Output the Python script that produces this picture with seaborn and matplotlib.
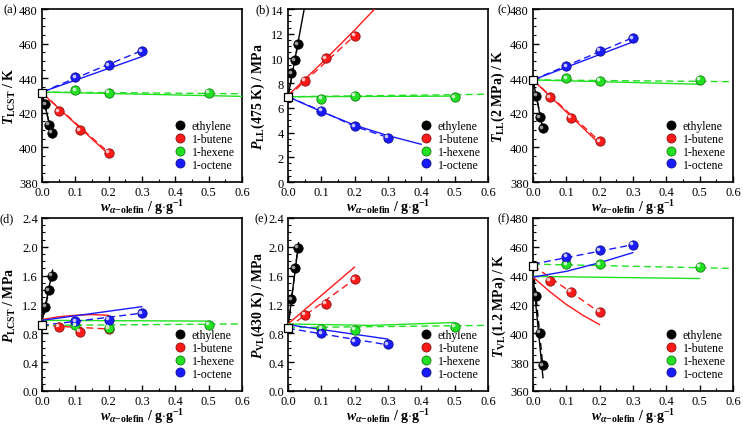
import matplotlib
matplotlib.use("Agg")
import matplotlib.pyplot as plt
import seaborn as sns
import matplotlib.transforms as mtransforms
from matplotlib.ticker import MultipleLocator, AutoMinorLocator, FormatStrFormatter
from matplotlib.lines import Line2D
from matplotlib.colors import to_rgb

# ---------------- data ----------------
SERIES = ["ethylene", "1-butene", "1-hexene", "1-octene"]
COLORS = ["#000000", "#ff1a1a", "#22e022", "#1a1aff"]

X_PTS = {"ethylene": [0.01, 0.02, 0.03],
         "1-butene": [0.05, 0.114, 0.2],
         "1-hexene": [0.1, 0.2, 0.5],
         "1-octene": [0.1, 0.2, 0.3]}

# (a) T_LCST
A_Y0 = 431.5
A_PTS = {"ethylene": [425, 413, 408.5], "1-butene": [421, 410, 397],
         "1-hexene": [433, 431.5, 431.5], "1-octene": [440.5, 447.5, 455.5]}
A_SOLID = {"ethylene": ([0, 0.032], [431.5, 405.5]), "1-butene": ([0, 0.2], [431.5, 396]),
           "1-hexene": ([0, 0.6], [432, 429.5]), "1-octene": ([0, 0.3], [432, 452.5])}
A_DASH = {"ethylene": ([0, 0.03], [431.5, 407]), "1-butene": ([0, 0.2], [431.5, 397]),
          "1-hexene": ([0, 0.6], [432, 431]), "1-octene": ([0, 0.3], [432, 456])}

# (b) P_LL(475 K)
B_Y0 = 6.9
B_PTS = {"ethylene": [8.8, 9.85, 11.15], "1-butene": [8.2, 10.0, 11.85],
         "1-hexene": [6.75, 7.0, 6.85], "1-octene": [5.75, 4.5, 3.6]}
B_SOLID = {"ethylene": ([0, 0.05], [6.9, 14.2]),
           "1-butene": ([0, 0.1, 0.2, 0.26], [7.0, 9.6, 12.3, 14.0]),
           "1-hexene": ([0, 0.5], [6.9, 6.95]),
           "1-octene": ([0, 0.1, 0.2, 0.3, 0.4], [6.9, 5.7, 4.6, 3.75, 3.05])}
B_DASH = {"ethylene": ([0, 0.03], [6.9, 11.2]), "1-butene": ([0, 0.2], [6.9, 11.85]),
          "1-hexene": ([0, 0.6], [6.9, 7.1]),
          "1-octene": ([0, 0.1, 0.2, 0.3], [6.9, 5.75, 4.5, 3.6])}

# (c) T_LL(2 MPa)
C_Y0 = 439
C_PTS = {"ethylene": [430, 417.5, 411], "1-butene": [429, 417, 403.5],
         "1-hexene": [440, 438.5, 439], "1-octene": [447, 456, 463]}
C_SOLID = {"ethylene": ([0, 0.03], [439, 410]), "1-butene": ([0, 0.2], [439, 402]),
           "1-hexene": ([0, 0.5], [439, 436.5]), "1-octene": ([0, 0.3], [439, 461])}
C_DASH = {"ethylene": ([0, 0.03], [439, 411]), "1-butene": ([0, 0.2], [439, 403.5]),
          "1-hexene": ([0, 0.6], [439, 438]), "1-octene": ([0, 0.3], [439, 463.5])}

# (d) P_LCST
D_Y0 = 0.91
D_PTS = {"ethylene": [1.17, 1.40, 1.60], "1-butene": [0.89, 0.82, 0.86],
         "1-hexene": [0.91, 0.88, 0.92], "1-octene": [0.97, 0.99, 1.08]}
D_SOLID = {"ethylene": ([0, 0.032], [0.96, 1.68]),
           "1-butene": ([0, 0.05, 0.1, 0.15, 0.2], [0.99, 1.03, 1.05, 1.06, 1.05]),
           "1-hexene": ([0, 0.5], [0.98, 0.97]), "1-octene": ([0, 0.3], [0.98, 1.17])}
D_DASH = {"ethylene": ([0, 0.03], [0.91, 1.62]), "1-butene": ([0, 0.2], [0.91, 0.86]),
          "1-hexene": ([0, 0.6], [0.91, 0.93]), "1-octene": ([0, 0.3], [0.91, 1.08])}

# (e) P_VL(430 K)
E_Y0 = 0.88
E_PTS = {"ethylene": [1.27, 1.70, 1.99], "1-butene": [1.06, 1.21, 1.55],
         "1-hexene": [0.86, 0.85, 0.89], "1-octene": [0.80, 0.69, 0.65]}
E_SOLID = {"ethylene": ([0, 0.032], [0.88, 2.06]), "1-butene": ([0, 0.2], [0.93, 1.72]),
           "1-hexene": ([0, 0.25, 0.5], [0.93, 0.91, 0.95]), "1-octene": ([0, 0.3], [0.92, 0.72])}
E_DASH = {"ethylene": ([0, 0.03], [0.88, 2.0]), "1-butene": ([0, 0.2], [0.88, 1.55]),
          "1-hexene": ([0, 0.6], [0.88, 0.91]), "1-octene": ([0, 0.3], [0.87, 0.64])}

# (f) T_VL(1.2 MPa)
F_Y0 = 447
F_PTS = {"ethylene": [426, 400.5, 378], "1-butene": [436.5, 429, 415],
         "1-hexene": [448, 448, 446], "1-octene": [453, 457.5, 461.5]}
F_SOLID = {"ethylene": ([0, 0.03], [440, 369]),
           "1-butene": ([0, 0.05, 0.1, 0.15, 0.2], [439, 429, 420, 412.5, 406]),
           "1-hexene": ([0, 0.5], [439.5, 438]),
           "1-octene": ([0, 0.1, 0.2, 0.3], [439, 443, 449, 456])}
F_DASH = {"ethylene": ([0, 0.03], [447, 376]), "1-butene": ([0, 0.2], [447, 414.5]),
          "1-hexene": ([0, 0.6], [448, 445]), "1-octene": ([0, 0.3], [448, 461.5])}

PANELS = [
    ("(a)", r"$T_{\mathrm{LCST}}$ / K", (380, 480), 20, "%d", A_Y0, A_PTS, A_SOLID, A_DASH),
    ("(b)", r"$P_{\mathrm{LL}}$(475 K) / MPa", (0, 14), 2, "%d", B_Y0, B_PTS, B_SOLID, B_DASH),
    ("(c)", r"$T_{\mathrm{LL}}$(2 MPa) / K", (380, 480), 20, "%d", C_Y0, C_PTS, C_SOLID, C_DASH),
    ("(d)", r"$P_{\mathrm{LCST}}$ / MPa", (0, 2.4), 0.4, "%.1f", D_Y0, D_PTS, D_SOLID, D_DASH),
    ("(e)", r"$P_{\mathrm{VL}}$(430 K) / MPa", (0, 2.4), 0.4, "%.1f", E_Y0, E_PTS, E_SOLID, E_DASH),
    ("(f)", r"$T_{\mathrm{VL}}$(1.2 MPa) / K", (360, 480), 20, "%d", F_Y0, F_PTS, F_SOLID, F_DASH),
]

# ---------------- style ----------------
sns.set_theme(style="ticks")
plt.rcParams["font.family"] = ["Liberation Serif", "DejaVu Serif"]
plt.rcParams["mathtext.fontset"] = "custom"
plt.rcParams["mathtext.rm"] = "Liberation Serif:bold"
plt.rcParams["mathtext.it"] = "Liberation Serif:italic:bold"
plt.rcParams["mathtext.bf"] = "Liberation Serif:bold"
plt.rcParams["axes.edgecolor"] = "black"
plt.rcParams["xtick.color"] = "black"
plt.rcParams["ytick.color"] = "black"
plt.rcParams["text.color"] = "black"
plt.rcParams["axes.labelcolor"] = "black"

fig = plt.figure(figsize=(7.43, 4.31), dpi=100)

LEFTS = [42 / 743, 288 / 743, 533 / 743]
BOTTOMS = [(431 - 183) / 431, (431 - 392) / 431]
W = 200 / 743
H = 173 / 431
YLAB_X = [-0.12, -0.105, -0.13, -0.12, -0.105, -0.125]
PLAB_X = [-0.125, -0.09, -0.11, -0.14, -0.1, -0.115]


def shade(c, f):
    r, g, b = to_rgb(c)
    return (r * f, g * f, b * f)


def light(c, f):
    r, g, b = to_rgb(c)
    return (r + (1 - r) * f, g + (1 - g) * f, b + (1 - b) * f)


for i, (plab, ylab, ylim, ystep, yfmt, y0, pts, solid, dash) in enumerate(PANELS):
    ax = fig.add_axes([LEFTS[i % 3], BOTTOMS[i // 3], W, H])
    for name, col in zip(SERIES, COLORS):
        sx, sy = solid[name]
        sns.lineplot(x=sx, y=sy, ax=ax, color=col, lw=1.0, sort=False,
                     estimator=None, legend=False, zorder=3)
        dx, dy = dash[name]
        sns.lineplot(x=dx, y=dy, ax=ax, color=col, lw=1.0, sort=False,
                     estimator=None, legend=False, zorder=3, linestyle=(0, (5, 3)))
    sns.scatterplot(x=[0], y=[y0], ax=ax, marker="s", s=38, color="white",
                    edgecolor="black", linewidth=0.9, zorder=8, clip_on=False, legend=False)
    hl = mtransforms.offset_copy(ax.transData, fig=fig, x=-1.1, y=1.1, units="points")
    for name, col in zip(SERIES, COLORS):
        xs = X_PTS[name]
        ys = pts[name]
        sns.scatterplot(x=xs, y=ys, ax=ax, color=col, s=45,
                        edgecolor=shade(col, 0.55) if col != "#000000" else "#000000",
                        linewidth=0.6, zorder=6, legend=False)
        hc = light(col, 0.75) if col != "#000000" else "#9a9a9a"
        ax.scatter(xs, ys, s=7, color=hc, linewidths=0, zorder=7, transform=hl)

    ax.set_xlim(0, 0.6)
    ax.set_ylim(*ylim)
    ax.xaxis.set_major_locator(MultipleLocator(0.1))
    ax.xaxis.set_minor_locator(AutoMinorLocator(2))
    ax.yaxis.set_major_locator(MultipleLocator(ystep))
    ax.yaxis.set_minor_locator(AutoMinorLocator(4))
    ax.xaxis.set_major_formatter(FormatStrFormatter("%.1f"))
    ax.yaxis.set_major_formatter(FormatStrFormatter(yfmt))
    ax.tick_params(which="both", direction="in", top=False, right=False, labelsize=9, pad=3)
    ax.tick_params(which="major", length=4, width=1.0)
    ax.tick_params(which="minor", length=2, width=0.8)
    for sp in ax.spines.values():
        sp.set_linewidth(1.2)
        sp.set_visible(True)

    ax.set_ylabel(ylab, fontsize=10, fontweight="bold")
    ax.yaxis.set_label_coords(YLAB_X[i], 0.5)
    ax.set_xlabel(r"$w_{\alpha\mathrm{-olefin}}$ / g$\cdot$g$^{-1}$", fontsize=10, fontweight="bold")
    ax.xaxis.set_label_coords(0.5, -0.09)
    ax.text(PLAB_X[i], 1.0, plab, transform=ax.transAxes, ha="right", va="center", fontsize=9)

    handles = [Line2D([], [], ls="", marker="o", markersize=6.5, markerfacecolor=c,
                      markeredgecolor=shade(c, 0.55), markeredgewidth=0.6) for c in COLORS]
    ax.legend(handles, SERIES, loc="lower right", bbox_to_anchor=(1.0, 0.025),
              frameon=False, fontsize=8.5, handlelength=1.0, handletextpad=0.5,
              labelspacing=0.08, borderaxespad=0.2)

fig.savefig("out.png", dpi=100)
